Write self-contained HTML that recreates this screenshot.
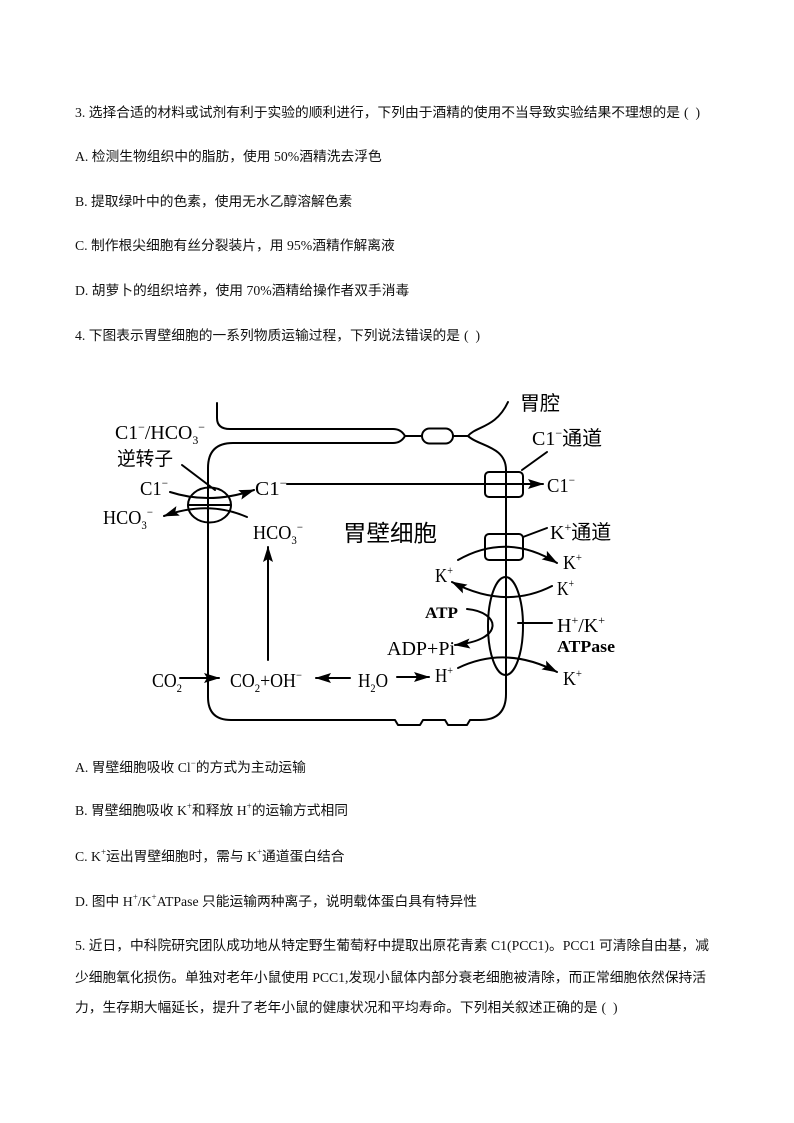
<!DOCTYPE html>
<html><head><meta charset="utf-8">
<style>
html,body{margin:0;padding:0;background:#fff;}
body{width:794px;height:1123px;position:relative;overflow:hidden;}
.t{position:absolute;left:75px;height:20px;line-height:20px;font-size:13.75px;white-space:nowrap;color:#111;
font-family:"Liberation Serif","Noto Sans CJK SC",serif;}
.t sup{font-size:9px;vertical-align:6px;line-height:0;}
.p{margin-left:4px;}
svg{position:absolute;left:0;top:0;}
</style></head><body>
<div class="t" style="top:103px">3. 选择合适的材料或试剂有利于实验的顺利进行，下列由于酒精的使用不当导致实验结果不理想的是<span class="p">(&nbsp;&nbsp;)</span></div>
<div class="t" style="top:147px">A. 检测生物组织中的脂肪，使用 50%酒精洗去浮色</div>
<div class="t" style="top:192px">B. 提取绿叶中的色素，使用无水乙醇溶解色素</div>
<div class="t" style="top:236px">C. 制作根尖细胞有丝分裂装片，用 95%酒精作解离液</div>
<div class="t" style="top:281px">D. 胡萝卜的组织培养，使用 70%酒精给操作者双手消毒</div>
<div class="t" style="top:326px">4. 下图表示胃壁细胞的一系列物质运输过程，下列说法错误的是<span class="p">(&nbsp;&nbsp;)</span></div>

<div class="t" style="top:758px">A. 胃壁细胞吸收 Cl<sup>−</sup>的方式为主动运输</div>
<div class="t" style="top:801px">B. 胃壁细胞吸收 K<sup>+</sup>和释放 H<sup>+</sup>的运输方式相同</div>
<div class="t" style="top:847px">C. K<sup>+</sup>运出胃壁细胞时，需与 K<sup>+</sup>通道蛋白结合</div>
<div class="t" style="top:892px">D. 图中 H<sup>+</sup>/K<sup>+</sup>ATPase 只能运输两种离子，说明载体蛋白具有特异性</div>
<div class="t" style="top:936px">5. 近日，中科院研究团队成功地从特定野生葡萄籽中提取出原花青素 C1(PCC1)。PCC1 可清除自由基，减</div>
<div class="t" style="top:968px">少细胞氧化损伤。单独对老年小鼠使用 PCC1,发现小鼠体内部分衰老细胞被清除，而正常细胞依然保持活</div>
<div class="t" style="top:998px">力，生存期大幅延长，提升了老年小鼠的健康状况和平均寿命。下列相关叙述正确的是<span class="p">(&nbsp;&nbsp;)</span></div>

<svg width="794" height="1123" viewBox="0 0 794 1123" xmlns="http://www.w3.org/2000/svg">
<defs>
<marker id="ah" viewBox="0 0 16 10" refX="15" refY="5" markerWidth="16" markerHeight="10" markerUnits="userSpaceOnUse" orient="auto">
<path d="M0,0 L16,5 L0,10 L3,5 Z" fill="#000"/>
</marker>
</defs>
<g fill="none" stroke="#000" stroke-width="2" stroke-linecap="round" stroke-linejoin="round">
<path d="M217,403 V418 Q217,429 230,429 H393 Q401,429 405,436"/>
<path d="M405,436 Q401,443 393,443 H233 Q208,443 208,468 V697 Q208,720 231,720 H395 L398,725 H420 L423,720 H445 L448,725 H467 L470,720 H480 Q506,720 506,694 V470 C506,446 478,446 468,436"/>
<path d="M405,436 H422"/>
<rect x="422" y="428.5" width="31" height="15" rx="7.5"/>
<path d="M453,436 H468"/>
<path d="M468,436 C476,426 496,428 508,402"/>
<ellipse cx="209.5" cy="505" rx="21.5" ry="17.5"/>
<path d="M188,505 H231"/>
<path d="M182,465 L215,490"/>
<path d="M170,492 Q210,505 254,490" marker-end="url(#ah)"/>
<path d="M247,517 Q208,500 164,516" marker-end="url(#ah)"/>
<rect x="485" y="472" width="38" height="25" rx="4"/>
<path d="M287,484 H543" marker-end="url(#ah)"/>
<path d="M522,470 L547,452"/>
<rect x="485" y="534" width="38" height="26" rx="4"/>
<path d="M523,537 L547,528"/>
<path d="M458,560 Q507,532 557,563" marker-end="url(#ah)"/>
<ellipse cx="505.5" cy="626" rx="17.5" ry="49"/>
<path d="M552,586 Q505,610 452,582" marker-end="url(#ah)"/>
<path d="M467,609 C500,612 506,640 455,645" marker-end="url(#ah)"/>
<path d="M518,623 H552"/>
<path d="M458,668 Q506,645 557,672" marker-end="url(#ah)"/>
<path d="M268,660 V547" marker-end="url(#ah)"/>
<path d="M180,678 H219" marker-end="url(#ah)"/>
<path d="M350,678 H316" marker-end="url(#ah)"/>
<path d="M397,677 H429" marker-end="url(#ah)"/>
</g>
<g fill="#000" font-family="Liberation Serif, serif" font-size="20">
<text x="115" y="439" textLength="90" lengthAdjust="spacingAndGlyphs">C1<tspan dy="-8" font-size="12">−</tspan><tspan dy="8">/HCO</tspan><tspan dy="5" font-size="12">3</tspan><tspan dy="-13" font-size="12">−</tspan></text>
<text x="140" y="495" textLength="28" lengthAdjust="spacingAndGlyphs">C1<tspan dy="-8" font-size="12">−</tspan></text>
<text x="103" y="524" textLength="50" lengthAdjust="spacingAndGlyphs">HCO<tspan dy="5" font-size="12">3</tspan><tspan dy="-13" font-size="12">−</tspan></text>
<text x="255" y="495" textLength="32" lengthAdjust="spacingAndGlyphs">C1<tspan dy="-8" font-size="12">−</tspan></text>
<text x="547" y="492" textLength="28" lengthAdjust="spacingAndGlyphs">C1<tspan dy="-8" font-size="12">−</tspan></text>
<text x="253" y="539" textLength="50" lengthAdjust="spacingAndGlyphs">HCO<tspan dy="5" font-size="12">3</tspan><tspan dy="-13" font-size="12">−</tspan></text>
<text x="532" y="445">C1<tspan dy="-8" font-size="12">−</tspan><tspan dy="8" font-family="Noto Sans CJK SC, sans-serif">通道</tspan></text>
<text x="550" y="539">K<tspan dy="-8" font-size="12">+</tspan><tspan dy="8" font-family="Noto Sans CJK SC, sans-serif">通道</tspan></text>
<text x="563" y="569" textLength="19" lengthAdjust="spacingAndGlyphs">K<tspan dy="-8" font-size="12">+</tspan></text>
<text x="435" y="582" textLength="18" lengthAdjust="spacingAndGlyphs">K<tspan dy="-8" font-size="12">+</tspan></text>
<text x="557" y="595" textLength="17" lengthAdjust="spacingAndGlyphs">K<tspan dy="-8" font-size="12">+</tspan></text>
<text x="425" y="618" font-size="16" font-weight="bold" textLength="33" lengthAdjust="spacingAndGlyphs">ATP</text>
<text x="387" y="655" textLength="68" lengthAdjust="spacingAndGlyphs">ADP+Pi</text>
<text x="557" y="632" textLength="48" lengthAdjust="spacingAndGlyphs">H<tspan dy="-8" font-size="12">+</tspan><tspan dy="8">/K</tspan><tspan dy="-8" font-size="12">+</tspan></text>
<text x="557" y="652" font-size="17" font-weight="bold" textLength="58" lengthAdjust="spacingAndGlyphs">ATPase</text>
<text x="435" y="682" textLength="18" lengthAdjust="spacingAndGlyphs">H<tspan dy="-8" font-size="12">+</tspan></text>
<text x="563" y="685" textLength="19" lengthAdjust="spacingAndGlyphs">K<tspan dy="-8" font-size="12">+</tspan></text>
<text x="152" y="687" textLength="30" lengthAdjust="spacingAndGlyphs">CO<tspan dy="5" font-size="12">2</tspan></text>
<text x="230" y="687" textLength="72" lengthAdjust="spacingAndGlyphs">CO<tspan dy="5" font-size="12">2</tspan><tspan dy="-5">+OH</tspan><tspan dy="-8" font-size="12">−</tspan></text>
<text x="358" y="687" textLength="30" lengthAdjust="spacingAndGlyphs">H<tspan dy="5" font-size="12">2</tspan><tspan dy="-5">O</tspan></text>
</g>
<g fill="#000" font-family="Noto Sans CJK SC, sans-serif">
<text x="117" y="465" font-size="19" textLength="56" lengthAdjust="spacingAndGlyphs">逆转子</text>
<text x="343" y="541" font-size="23" textLength="94" lengthAdjust="spacingAndGlyphs">胃壁细胞</text>
<text x="520" y="410" font-size="20" textLength="40" lengthAdjust="spacingAndGlyphs">胃腔</text>
</g>
</svg>
</body></html>
